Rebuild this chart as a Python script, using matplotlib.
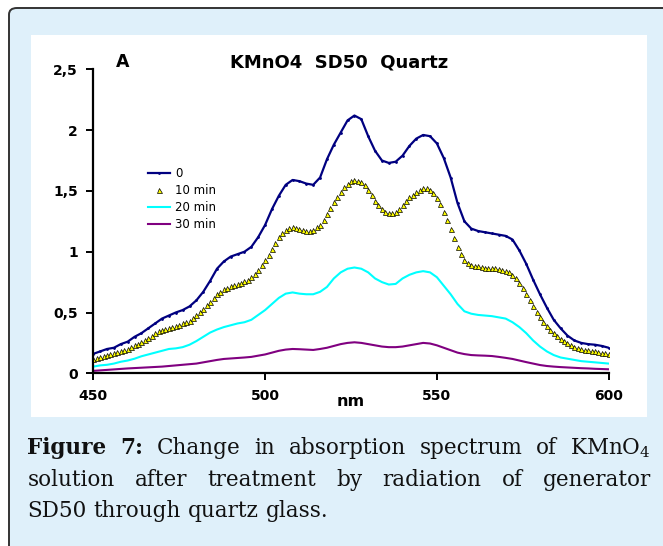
import numpy as np
import matplotlib.pyplot as plt
from matplotlib.patches import FancyBboxPatch, Rectangle

# absorbance, 2 nm steps from 450 to 600 nm
wavelength = np.arange(450, 601, 2)

abs_0 = [0.16, 0.18, 0.20, 0.21, 0.24, 0.26, 0.30, 0.33, 0.37, 0.41,
         0.45, 0.475, 0.50, 0.52, 0.55, 0.60, 0.67, 0.76, 0.86, 0.92,
         0.96, 0.98, 1.00, 1.04, 1.12, 1.22, 1.35, 1.46, 1.55, 1.59,
         1.58, 1.56, 1.55, 1.61, 1.76, 1.88, 1.98, 2.08, 2.12, 2.09,
         1.95, 1.83, 1.75, 1.73, 1.74, 1.79, 1.87, 1.93, 1.96, 1.95,
         1.89, 1.77, 1.61, 1.40, 1.25, 1.19, 1.17, 1.16, 1.15, 1.14,
         1.13, 1.10, 1.01, 0.90, 0.77, 0.65, 0.54, 0.44, 0.37, 0.31,
         0.27, 0.25, 0.24, 0.235, 0.225, 0.21]

# the 10 min series is drawn point by point (triangles), 1 nm steps
wavelength_10 = np.arange(450, 601, 1)
abs_10 = [0.12, 0.125, 0.13, 0.14, 0.15, 0.158, 0.165, 0.172, 0.18, 0.19,
          0.20, 0.215, 0.23, 0.245, 0.26, 0.275, 0.29, 0.31, 0.33, 0.345,
          0.355, 0.365, 0.375, 0.383, 0.39, 0.40, 0.41, 0.42, 0.43, 0.455,
          0.48, 0.505, 0.53, 0.56, 0.59, 0.62, 0.65, 0.67, 0.69, 0.70,
          0.715, 0.725, 0.735, 0.745, 0.755, 0.77, 0.79, 0.82, 0.85, 0.89,
          0.93, 0.975, 1.02, 1.07, 1.12, 1.15, 1.18, 1.195, 1.20, 1.195,
          1.19, 1.18, 1.17, 1.17, 1.18, 1.20, 1.22, 1.26, 1.31, 1.36,
          1.41, 1.45, 1.49, 1.53, 1.56, 1.58, 1.59, 1.585, 1.57, 1.545,
          1.51, 1.465, 1.42, 1.38, 1.35, 1.33, 1.32, 1.32, 1.33, 1.35,
          1.38, 1.415, 1.45, 1.47, 1.49, 1.51, 1.52, 1.52, 1.51, 1.48,
          1.44, 1.39, 1.33, 1.26, 1.19, 1.11, 1.04, 0.98, 0.93, 0.91,
          0.89, 0.885, 0.88, 0.875, 0.87, 0.87, 0.87, 0.865, 0.86, 0.85,
          0.84, 0.83, 0.81, 0.78, 0.74, 0.70, 0.65, 0.60, 0.55, 0.505,
          0.46, 0.425, 0.39, 0.36, 0.33, 0.305, 0.285, 0.265, 0.25, 0.235,
          0.22, 0.21, 0.20, 0.195, 0.19, 0.185, 0.18, 0.175, 0.17, 0.165,
          0.16]

abs_20 = [0.055, 0.065, 0.07, 0.08, 0.095, 0.105, 0.12, 0.14, 0.155, 0.17,
          0.185, 0.20, 0.205, 0.215, 0.235, 0.265, 0.30, 0.335, 0.36, 0.38,
          0.395, 0.41, 0.42, 0.44, 0.48, 0.52, 0.57, 0.62, 0.655, 0.665,
          0.655, 0.65, 0.65, 0.67, 0.71, 0.78, 0.83, 0.86, 0.87, 0.86,
          0.83, 0.78, 0.75, 0.73, 0.735, 0.78, 0.81, 0.83, 0.84, 0.83,
          0.79, 0.72, 0.65, 0.57, 0.51, 0.49, 0.48, 0.475, 0.47, 0.46,
          0.45, 0.42, 0.38, 0.33, 0.27, 0.22, 0.18, 0.15, 0.13, 0.12,
          0.11, 0.10, 0.095, 0.09, 0.085, 0.08]

abs_30 = [0.02, 0.024, 0.028, 0.032, 0.036, 0.04, 0.043, 0.046, 0.049, 0.052,
          0.055, 0.06, 0.065, 0.07, 0.075, 0.08, 0.09, 0.10, 0.11, 0.118,
          0.122, 0.126, 0.13, 0.135, 0.145, 0.155, 0.17, 0.185, 0.195, 0.20,
          0.198, 0.195, 0.192, 0.20, 0.21, 0.225, 0.24, 0.25, 0.255, 0.25,
          0.24, 0.23, 0.22, 0.215, 0.215, 0.22, 0.23, 0.24, 0.25, 0.245,
          0.23, 0.21, 0.19, 0.17, 0.158, 0.15, 0.147, 0.145, 0.142, 0.135,
          0.127, 0.118, 0.105, 0.092, 0.08, 0.068, 0.06, 0.055, 0.051, 0.048,
          0.045, 0.042, 0.04, 0.037, 0.035, 0.033]

labels = ["0", "10 min", "20 min", "30 min"]
xticks = [450, 500, 550, 600]
yticks = [0, 0.5, 1, 1.5, 2, 2.5]
ytick_labels = ["0", "0,5", "1", "1,5", "2", "2,5"]

W, H = 663, 546
fig = plt.figure(figsize=(W / 100, H / 100), dpi=100)


def fx(x):
    return x / W


def fy(y):
    return 1 - y / H


# light blue caption panel with dark rounded border, white chart box on top
panel = FancyBboxPatch((fx(9), fy(600)), fx(720) - fx(9), fy(8) - fy(600),
                       boxstyle="round,pad=0,rounding_size=0.012",
                       transform=fig.transFigure, facecolor="#dff0fa",
                       edgecolor="#333333", linewidth=1.4, zorder=-3)
fig.patches.append(panel)
fig.patches.append(Rectangle((fx(31), fy(417)), fx(647) - fx(31), fy(35) - fy(417),
                             transform=fig.transFigure, facecolor="white",
                             edgecolor="none", zorder=-2))

ax = fig.add_axes([fx(93.3), fy(373.3), fx(608.7) - fx(93.3), fy(69.3) - fy(373.3)])
ax.patch.set_alpha(0)

ax.plot(wavelength, abs_0, color="#000080", lw=1.6, marker=".", ms=2, label=labels[0])
ax.plot(wavelength_10, abs_10, ls="none", marker="^", ms=3.6, mfc="#ffff00", mec="black",
        mew=0.5, label=labels[1])
ax.plot(wavelength, abs_20, color="#00ffff", lw=1.5, label=labels[2])
ax.plot(wavelength, abs_30, color="#800080", lw=1.5, label=labels[3])

ax.set_xlim(450, 600)
ax.set_ylim(0, 2.5)
ax.spines["top"].set_visible(False)
ax.spines["right"].set_visible(False)
for s in ["left", "bottom"]:
    ax.spines[s].set_linewidth(1.6)
ax.set_xticks(xticks)
ax.set_xticklabels([str(t) for t in xticks])
ax.set_yticks(yticks)
ax.set_yticklabels(ytick_labels)
ax.tick_params(direction="out", length=5, width=1.4, labelsize=10, pad=6)
for t in ax.get_xticklabels() + ax.get_yticklabels():
    t.set_fontweight("bold")

ax.legend(loc="upper left", bbox_to_anchor=(fx(148), fy(167)), bbox_transform=fig.transFigure,
          frameon=False, fontsize=8.5, handlelength=1.9, handletextpad=0.4,
          labelspacing=0.35, borderpad=0, borderaxespad=0, numpoints=1)

fig.text(fx(339), fy(62), "KMnO4  SD50  Quartz", ha="center", va="center",
         fontsize=13, fontweight="bold")
fig.text(fx(123), fy(62), "A", ha="center", va="center", fontsize=12.5, fontweight="bold")
fig.text(fx(351), fy(401), "nm", ha="center", va="center", fontsize=11.5, fontweight="bold")

# caption, justified like the source page
fig.canvas.draw()
renderer = fig.canvas.get_renderer()
cap_font = dict(family="DejaVu Serif", fontsize=15.5, va="center", ha="left", color="#111111")


def justify(words, y, x0, x1, bold=0, stretch=True):
    texts = []
    for i, w in enumerate(words):
        texts.append(fig.text(0, fy(y), w, fontweight="bold" if i < bold else "normal", **cap_font))
    widths = [t.get_window_extent(renderer).width for t in texts]
    if stretch:
        gap = (x1 - x0 - sum(widths)) / (len(words) - 1)
    else:
        probe = fig.text(0, 0, "a a", **cap_font)
        probe2 = fig.text(0, 0, "aa", **cap_font)
        gap = probe.get_window_extent(renderer).width - probe2.get_window_extent(renderer).width
        probe.remove()
        probe2.remove()
    x = x0
    for t, w in zip(texts, widths):
        t.set_x(fx(x))
        x += w + gap


justify(["Figure", "7:", "Change", "in", "absorption", "spectrum", "of",
         r"KMnO$_\mathregular{4}$"], 448, 27.5, 651, bold=2)
justify(["solution", "after", "treatment", "by", "radiation", "of", "generator"],
        480, 27.5, 651)
justify(["SD50", "through", "quartz", "glass."], 511, 27.5, 651, stretch=False)

fig.savefig("out.png", dpi=100)
